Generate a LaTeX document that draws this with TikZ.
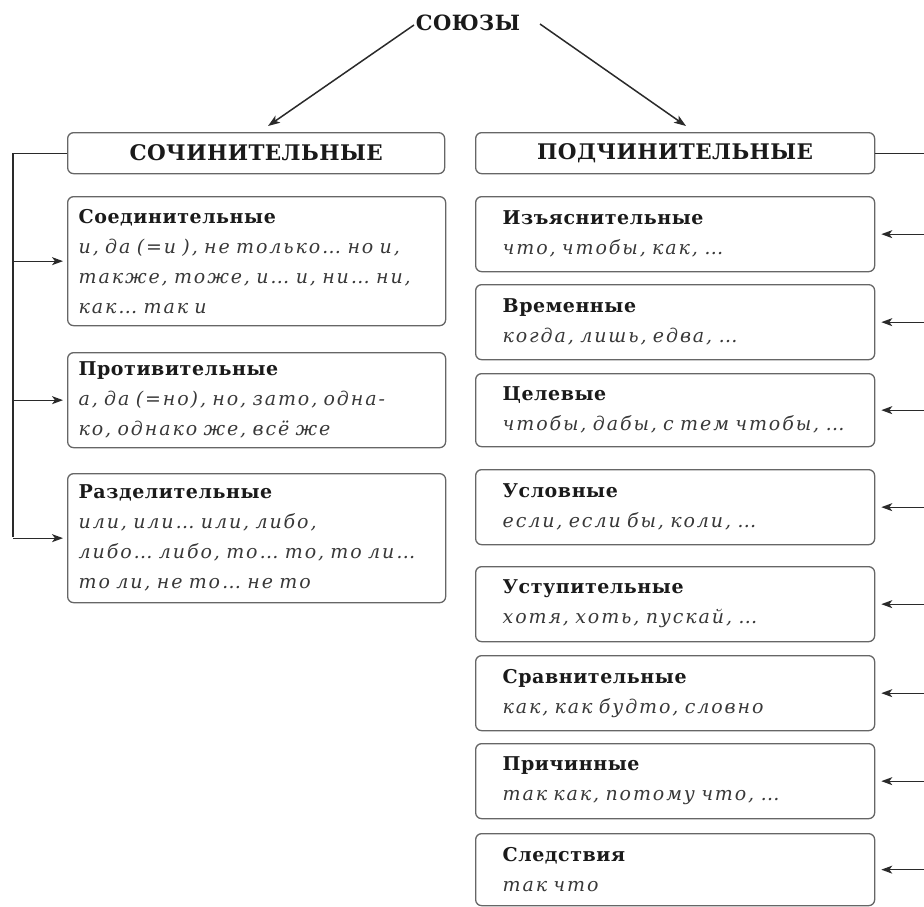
\documentclass[tikz,border=0pt]{standalone}
\usepackage{fontspec}
\setmainfont{DejaVu Serif}
\newfontfamily\hdfont{DejaVu Serif}[LetterSpace=2]
\newfontfamily\ttfont{DejaVu Serif}[LetterSpace=3]
\newfontfamily\itfont{DejaVu Serif}[LetterSpace=10,WordSpace=1.5]
\usetikzlibrary{arrows.meta}
\definecolor{boxgray}{HTML}{666666}
\definecolor{linegray}{HTML}{2A2A2A}
\definecolor{ttlcol}{HTML}{1A1A1A}
\definecolor{itcol}{HTML}{383838}
\newcommand\Ttl[1]{\mbox{\color{ttlcol}\ttfont\bfseries #1}}
\newcommand\Itl[1]{\mbox{\color{itcol}\itfont\itshape #1}}
\tikzset{
  conn/.style={draw=linegray, line width=1.3pt},
  arr/.style={conn, -{Stealth[length=11pt,width=8pt,inset=3pt]}},
  bigarr/.style={draw=linegray, line width=1.5pt, -{Stealth[length=12pt,width=8.5pt,inset=3pt]}},
  basebox/.style={draw=boxgray, line width=1.3pt, rounded corners=6pt, anchor=north west,
    align=left, inner ysep=0pt, font=\fontsize{19}{30}\selectfont},
  lbox/.style={basebox, inner xsep=11pt, text width=356pt},
  rbox/.style={basebox, inner xsep=27pt, text width=345pt},
  hdbox/.style={draw=boxgray, line width=1.3pt, rounded corners=6pt, anchor=north west,
    minimum height=41pt, inner sep=0pt, font=\hdfont\bfseries\fontsize{21.5}{24}\selectfont, text=ttlcol},
}
\begin{document}
\begin{tikzpicture}[x=1pt,y=-1pt]
\useasboundingbox (0,0) rectangle (924,906);
% top
\node[font=\hdfont\bfseries\fontsize{21}{24}\selectfont, text=ttlcol, inner sep=0pt] (souz) at (468,23) {СОЮЗЫ};
\node[hdbox, minimum width=377pt] (soch) at (67,132) {СОЧИНИТЕЛЬНЫЕ};
\node[hdbox, minimum width=399pt] (podch) at (475,132) {ПОДЧИНИТЕЛЬНЫЕ};
\coordinate (lstart) at (414,25);
\coordinate (lend) at (268,126);
\coordinate (rstart) at (540,24);
\coordinate (rend) at (686,126);
\draw[bigarr] (lstart) -- (lend);
\draw[bigarr] (rstart) -- (rend);
% left boxes
\node[lbox, minimum height=129pt] (soed) at (67,196) {\Ttl{Соединительные}\\\Itl{и, да (=и ), не только… но и,}\\\Itl{также, тоже, и… и, ни… ни,}\\\Itl{как… так и}};
\node[lbox, minimum height=95pt] (prot) at (67,352) {\Ttl{Противительные}\\\Itl{а, да (=но), но, зато, одна-}\\\Itl{ко, однако же, всё же}};
\node[lbox, minimum height=129pt] (razd) at (67,473) {\Ttl{Разделительные}\\\Itl{или, или… или, либо,}\\\Itl{либо… либо, то… то, то ли…}\\\Itl{то ли, не то… не то}};
% right boxes
\node[rbox, minimum height=75pt] (izya) at (475,196) {\Ttl{Изъяснительные}\\\Itl{что, чтобы, как, …}};
\node[rbox, minimum height=75pt] (vrem) at (475,284) {\Ttl{Временные}\\\Itl{когда, лишь, едва, …}};
\node[rbox, minimum height=73pt] (cel) at (475,373) {\Ttl{Целевые}\\\Itl{чтобы, дабы, с тем чтобы, …}};
\node[rbox, minimum height=75pt] (usl) at (475,469) {\Ttl{Условные}\\\Itl{если, если бы, коли, …}};
\node[rbox, minimum height=75pt] (ustu) at (475,566) {\Ttl{Уступительные}\\\Itl{хотя, хоть, пускай, …}};
\node[rbox, minimum height=75pt] (srav) at (475,655) {\Ttl{Сравнительные}\\\Itl{как, как будто, словно}};
\node[rbox, minimum height=75pt] (prich) at (475,743) {\Ttl{Причинные}\\\Itl{так как, потому что, …}};
\node[rbox, minimum height=72pt] (sled) at (475,833) {\Ttl{Следствия}\\\Itl{так что}};
% left bus
\coordinate (lbus) at (13,537);
\draw[conn] (soch.west) -| (lbus);
\draw[arr, shorten >=4pt] (razd.west -| lbus) -- (razd.west);
\draw[arr, shorten >=4pt] (soed.west -| lbus) -- (soed.west);
\draw[arr, shorten >=4pt] (prot.west -| lbus) -- (prot.west);
% right bus (vertical part lies beyond the picture edge)
\coordinate (rbus) at (924,153);
\draw[conn] (podch.east) -- (podch.east -| rbus);
\foreach \b in {izya,vrem,cel,usl,ustu,srav,prich,sled}{
  \draw[arr, shorten >=6pt] (\b.east -| rbus) -- (\b.east);
}
\end{tikzpicture}
\end{document}
